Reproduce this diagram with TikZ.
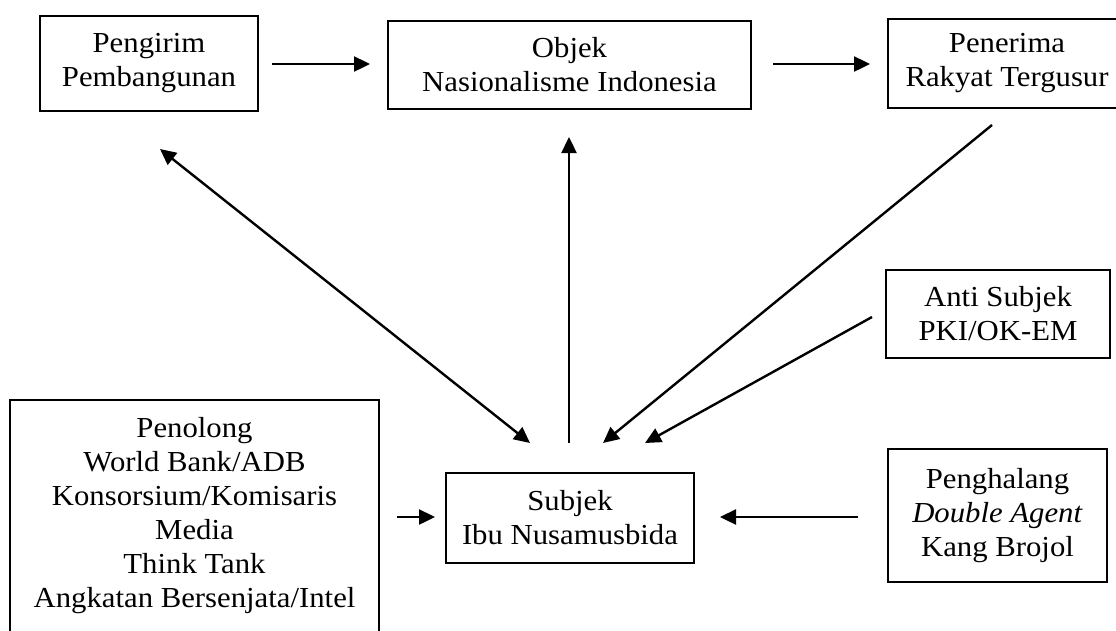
\documentclass[tikz,border=0pt]{standalone}
\usepackage{fontspec}
\setmainfont{Liberation Serif}[FakeStretch=1.06]
\usetikzlibrary{arrows.meta}
\tikzset{
  box/.style={draw, line width=2.8pt, inner sep=0pt, align=center,
    font=\fontsize{29}{34}\selectfont},
  link/.style={line width=2.4pt, -{Triangle[length=16pt,width=15pt]}},
  biglink/.style={line width=2.4pt, {Triangle[length=16pt,width=15pt]}-{Triangle[length=16pt,width=15pt]}}
}
\begin{document}
\begin{tikzpicture}[x=1pt,y=-1pt]
\useasboundingbox (0,0) rectangle (1116,630);

% actant boxes
\node[box, minimum width=218pt, minimum height=95pt] (pengirim) at (149,63.5) {Pengirim\\Pembangunan};
\node[box, minimum width=363pt, minimum height=88pt] (objek) at (569.5,65) {Objek\\Nasionalisme Indonesia};
\node[box, minimum width=238pt, minimum height=89pt] (penerima) at (1007,63.5) {Penerima\\Rakyat Tergusur};
\node[box, minimum width=224pt, minimum height=88pt] (anti) at (998,314) {Anti Subjek\\PKI/OK-EM};
\node[box, minimum width=369pt, minimum height=232pt] (penolong) at (194.5,516)
  {Penolong\\World Bank/ADB\\Konsorsium/Komisaris\\Media\\Think Tank\\Angkatan Bersenjata/Intel};
\node[box, minimum width=248pt, minimum height=90pt] (subjek) at (570,518) {Subjek\\Ibu Nusamusbida};
\node[box, minimum width=219pt, minimum height=133pt] (penghalang) at (997.5,515.5)
  {Penghalang\\\textit{Double Agent}\\Kang Brojol};

% free ends of the connectors
\coordinate (a1) at (272,64);   \coordinate (a2) at (370,64);
\coordinate (b1) at (773,64);   \coordinate (b2) at (870,64);
\coordinate (c1) at (160,149);  \coordinate (c2) at (530,443);
\coordinate (d1) at (569,443);  \coordinate (d2) at (569,137);
\coordinate (e1) at (992,125);  \coordinate (e2) at (603,443);
\coordinate (f1) at (872,317);  \coordinate (f2) at (645,443);
\coordinate (g1) at (858,517);  \coordinate (g2) at (720,517);
\coordinate (h1) at (397,517);  \coordinate (h2) at (435,517);

% connectors
\draw[link] (a1) -- (a2);
\draw[link] (b1) -- (b2);
\draw[biglink] (c1) -- (c2);
\draw[link] (d1) -- (d2);
\draw[link] (e1) -- (e2);
\draw[link] (f1) -- (f2);
\draw[link] (g1) -- (g2);
\draw[link] (h1) -- (h2);
\end{tikzpicture}
\end{document}
